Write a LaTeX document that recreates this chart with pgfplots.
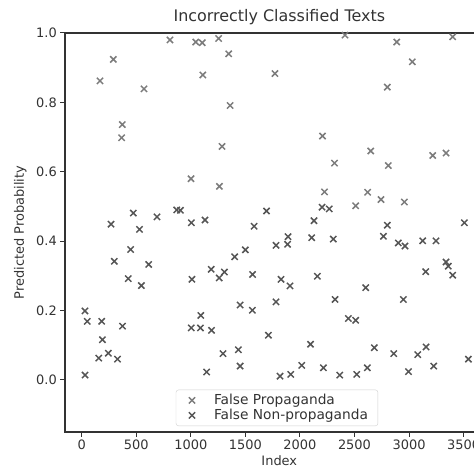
\documentclass[border=0pt]{standalone}
\usepackage{pgfplots}
\pgfplotsset{compat=1.18}
\usepackage{fontspec}
\setmainfont{DejaVu Sans}
\definecolor{fpcol}{HTML}{7C7C7C}
\definecolor{fncol}{HTML}{555555}
\definecolor{axcol}{HTML}{333333}
\begin{document}
\begin{tikzpicture}
\path[use as bounding box] (-65bp,-36bp) rectangle (409bp,432bp);
\clip (-65bp,-36bp) rectangle (409bp,432bp);
\begin{axis}[
  at={(0,0)}, anchor=south west,
  scale only axis, width=428.6bp, height=399bp,
  xmin=-153, xmax=3775, ymin=-0.15, ymax=1.0,
  xtick={0,500,1000,1500,2000,2500,3000,3500},
  ytick={0,0.2,0.4,0.6,0.8,1.0},
  /pgf/number format/assume math mode=true,
  yticklabel style={/pgf/number format/.cd, fixed, fixed zerofill, precision=1},
  xticklabel style={/pgf/number format/1000 sep={}},
  tick label style={font=\fontsize{13}{15}\selectfont, text=axcol},
  tick align=outside, tick pos=left, major tick length=4.7bp,
  axis line style={axcol, line width=1.1bp},
  every tick/.style={axcol, line width=1bp},
  title={Incorrectly Classified Texts},
  title style={at={(axis description cs:0.5,1)}, anchor=base, yshift=6bp, font=\fontsize{16}{18}\selectfont, text=axcol, inner sep=0pt},
  xlabel={Index},
  xlabel style={at={(axis description cs:0.5,-0.0852)}, anchor=base, font=\fontsize{13}{15}\selectfont, text=axcol, inner sep=0pt},
  ylabel={Predicted Probability},
  ylabel style={at={(axis description cs:-0.0957,0.5)}, anchor=base, font=\fontsize{13}{15}\selectfont, text=axcol, inner sep=0pt},
  legend style={at={(0.4946,0.015)}, anchor=south, draw=black!18, rounded corners=2.5bp, fill=white,
    font=\fontsize{13.8}{15}\selectfont, text=axcol, inner xsep=7bp, inner ysep=3bp,
    nodes={inner ysep=1.5bp, inner xsep=3bp}, column sep=0bp},
  legend image code/.code={\path[draw=none,fill=none] (-9bp,0bp) -- (6bp,0bp); \draw[#1] plot coordinates {(0bp,0bp)};},
  legend cell align=left,
]
\addplot[only marks, mark=x, mark size=4.4bp, color=fpcol, mark options={line width=1.5bp}] coordinates {
(809,0.980) (1045,0.974) (1105,0.972) (290,0.924) (168,0.862) (571,0.839) (1110,0.879)
(372,0.736) (366,0.698) (1002,0.580) (1255,0.984) (1347,0.940) (1771,0.883) (1360,0.791)
(2207,0.703) (1286,0.673) (2317,0.625) (1262,0.558) (2225,0.542) (2413,0.994) (2887,0.974)
(3400,0.989) (3030,0.917) (2801,0.844) (2649,0.660) (2810,0.618) (3217,0.647) (3339,0.654)
(2621,0.541) (2511,0.502) (2743,0.520) (2957,0.513)
};
\addlegendentry{\hspace{13bp}False Propaganda}
\addplot[only marks, mark=x, mark size=4.4bp, color=fncol, mark options={line width=1.5bp}] coordinates {
(473,0.481) (269,0.449) (690,0.470) (871,0.490) (905,0.489) (1005,0.453) (1130,0.461)
(530,0.434) (1694,0.487) (2203,0.498) (2269,0.493) (1580,0.443) (2129,0.459) (2801,0.446)
(3507,0.453) (449,0.376) (299,0.342) (614,0.333) (427,0.292) (547,0.272) (1010,0.290)
(30,0.199) (51,0.169) (183,0.169) (374,0.155) (1092,0.186) (1004,0.150) (1088,0.150)
(1190,0.143) (190,0.116) (244,0.077) (156,0.063) (328,0.060) (31,0.014) (1145,0.023)
(1891,0.413) (1887,0.391) (1781,0.388) (2108,0.410) (2306,0.406) (1500,0.375) (1402,0.355)
(1187,0.319) (1308,0.311) (1260,0.294) (1566,0.304) (1827,0.290) (1909,0.271) (2160,0.299)
(1452,0.216) (1564,0.201) (1781,0.225) (2322,0.232) (1711,0.129) (2097,0.103) (1295,0.076)
(1436,0.087) (1452,0.040) (1818,0.011) (1916,0.016) (2017,0.042) (2215,0.035) (2365,0.014)
(2765,0.414) (2902,0.395) (2963,0.386) (3125,0.401) (3247,0.401) (3339,0.340) (3360,0.328)
(3400,0.302) (3153,0.312) (2603,0.266) (2948,0.232) (2444,0.177) (2511,0.172) (2682,0.093)
(2860,0.076) (3080,0.073) (3156,0.095) (3544,0.060) (2521,0.016) (2618,0.035) (2995,0.024)
(3226,0.040)
};
\addlegendentry{\hspace{13bp}False Non-propaganda}
\end{axis}
\end{tikzpicture}
\end{document}
